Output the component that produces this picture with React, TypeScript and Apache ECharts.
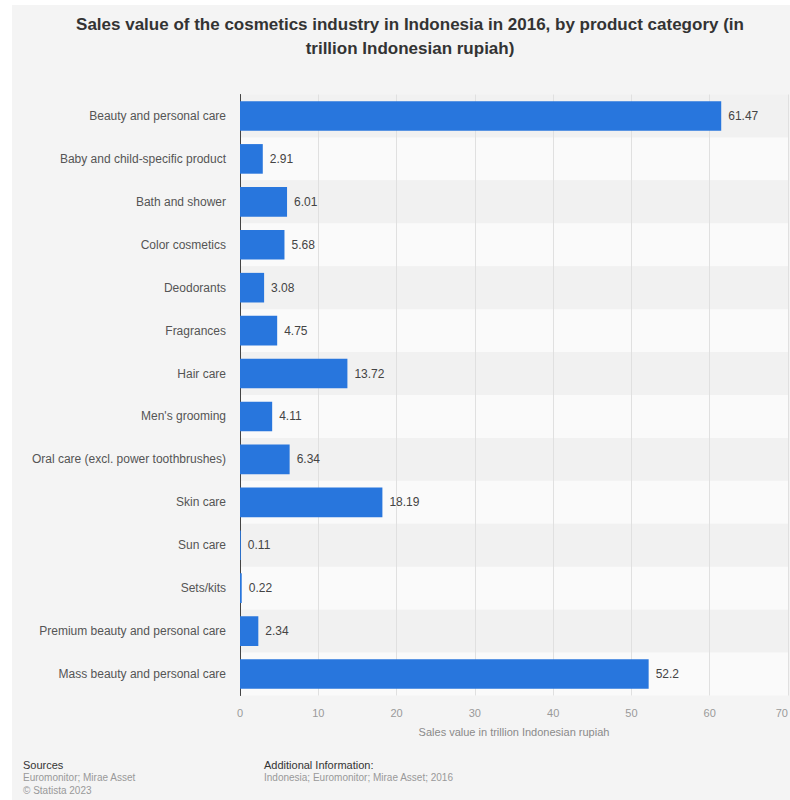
import React, { useEffect, useRef } from "react";
import * as echarts from "echarts";

const categories = [
  "Beauty and personal care",
  "Baby and child-specific product",
  "Bath and shower",
  "Color cosmetics",
  "Deodorants",
  "Fragrances",
  "Hair care",
  "Men's grooming",
  "Oral care (excl. power toothbrushes)",
  "Skin care",
  "Sun care",
  "Sets/kits",
  "Premium beauty and personal care",
  "Mass beauty and personal care",
];
const values = [61.47, 2.91, 6.01, 5.68, 3.08, 4.75, 13.72, 4.11, 6.34, 18.19, 0.11, 0.22, 2.34, 52.2];

const FONT = "'Liberation Sans', Arial, Helvetica, sans-serif";

export default function App() {
  const ref = useRef<HTMLDivElement>(null);
  useEffect(() => {
    document.body.style.margin = "0";
    document.documentElement.style.overflow = "hidden";
    const chart = echarts.init(ref.current!, null, { renderer: "svg", width: 790, height: 800 });
    chart.setOption({
      animation: false,
      backgroundColor: "#ffffff",
      textStyle: { fontFamily: FONT },
      title: {
        text: "Sales value of the cosmetics industry in Indonesia in 2016, by product category (in\ntrillion Indonesian rupiah)",
        left: 405,
        top: 7,
        textAlign: "center",
        textStyle: { fontSize: 17, fontWeight: "bold", color: "#333333", lineHeight: 24, fontFamily: FONT },
      },
      grid: { left: 240, right: 2, top: 94.5, bottom: 104.5, containLabel: false, outerBoundsMode: "none" },
      xAxis: {
        type: "value",
        min: 0,
        max: 70,
        interval: 10,
        name: "Sales value in trillion Indonesian rupiah",
        nameLocation: "middle",
        nameGap: 31,
        nameTextStyle: { fontSize: 11, color: "#8a8a8a" },
        axisLine: { show: false },
        axisTick: { show: false },
        axisLabel: { fontSize: 11, color: "#9a9a9a", margin: 12, alignMaxLabel: "right" },
        splitLine: { show: true, lineStyle: { color: "#e0e0e0", width: 1 } },
      },
      yAxis: {
        type: "category",
        data: categories,
        inverse: true,
        axisLine: { show: true, lineStyle: { color: "#444444", width: 1 } },
        axisTick: { show: false },
        axisLabel: { fontSize: 12, color: "#555555", margin: 14 },
        splitArea: { show: true, areaStyle: { color: ["#f1f1f1", "#fafafa"] } },
        splitLine: { show: false },
      },
      series: [
        {
          type: "bar",
          data: values,
          barCategoryGap: "31%",
          itemStyle: { color: "#2876dd" },
          label: {
            show: true,
            position: "right",
            distance: 7,
            fontSize: 12,
            color: "#444444",
            formatter: (p: any) => String(p.value),
          },
        },
      ],
      graphic: [
        { type: "rect", z: -10, silent: true, shape: { x: 12, y: 5, width: 778, height: 795 }, style: { fill: "#f4f4f4" } },
        { type: "text", left: 23, top: 759, style: { text: "Sources", fontSize: 11, fill: "#333333", fontFamily: FONT } },
        { type: "text", left: 23, top: 772, style: { text: "Euromonitor; Mirae Asset", fontSize: 10, fill: "#999999", fontFamily: FONT } },
        { type: "text", left: 23, top: 785, style: { text: "\u00a9 Statista 2023", fontSize: 10, fill: "#999999", fontFamily: FONT } },
        { type: "text", left: 264, top: 759, style: { text: "Additional Information:", fontSize: 11, fill: "#333333", fontFamily: FONT } },
        { type: "text", left: 264, top: 772, style: { text: "Indonesia; Euromonitor; Mirae Asset; 2016", fontSize: 10, fill: "#999999", fontFamily: FONT } },
      ],
    });
    return () => chart.dispose();
  }, []);
  return <div ref={ref} style={{ width: 790, height: 800 }} />;
}
